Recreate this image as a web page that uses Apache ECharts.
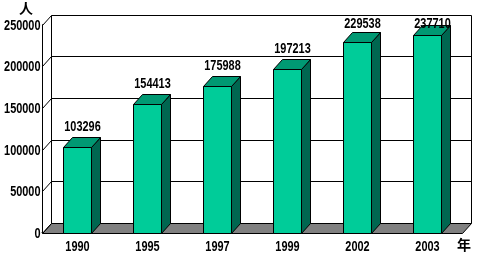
<!DOCTYPE html>
<html><head><meta charset="utf-8">
<script src="https://cdn.jsdelivr.net/npm/echarts@6/dist/echarts.min.js"></script>
<style>html,body{margin:0;padding:0;background:#fff}#c{width:477px;height:258px}</style>
</head><body><div id="c"></div>
<script>
const categories = ['1990','1995','1997','1999','2002','2003'];
const values = [103296,154413,175988,197213,229538,237710];
const yTicks = [0,50000,100000,150000,200000,250000];
const yMax = 250000, yStep = 50000;
const DX = 9, DY = -10;
const FONT = 'bold 14px "Liberation Sans",Arial,sans-serif';
const SX = 0.78;

const chart = echarts.init(document.getElementById('c'), null, {renderer:'canvas'});

function wallItem(params, api){
  const v = api.value(0);
  const n = categories.length;
  const band = api.size([1,0])[0];
  const f = api.coord([0, v]);
  const fr = api.coord([n-1, v]);
  const x0 = Math.round(f[0]-band/2)+0.5, x1 = Math.round(fr[0]+band/2)+0.5;
  const y0 = Math.round(f[1])+0.5;
  const children = [];
  const ls = {stroke:'#000', lineWidth:1};
  if (v === 0){
    children.push({type:'polygon', shape:{points:[[x0,y0],[x1,y0],[x1+DX,y0+DY],[x0+DX,y0+DY]]}, style:{fill:'#808080', stroke:'#000', lineWidth:1}});
    const top = Math.round(api.coord([0, yMax])[1])+0.5;
    children.push({type:'line', shape:{x1:x0+DX,y1:y0+DY,x2:x0+DX,y2:top+DY}, style:ls});
    children.push({type:'line', shape:{x1:x1+DX,y1:y0+DY,x2:x1+DX,y2:top+DY}, style:ls});
  } else {
    children.push({type:'line', shape:{x1:x0+DX,y1:y0+DY,x2:x1+DX,y2:y0+DY}, style:ls});
  }
  children.push({type:'line', shape:{x1:x0,y1:y0,x2:x0+DX,y2:y0+DY}, style:ls});
  children.push({type:'text', x:x0-2, y:y0+1, scaleX:SX, style:{text:String(v), x:0, y:0, textAlign:'right', textVerticalAlign:'middle', font:FONT, fill:'#000'}});
  return {type:'group', children};
}

function barItem(params, api){
  const idx = api.value(0), v = api.value(1);
  const top = api.coord([idx, v]);
  const base = api.coord([idx, 0]);
  const w = api.size([1,0])[0]*0.4;
  const l = Math.round(top[0]-w/2)+0.5, r = l + Math.round(w);
  const t = Math.round(top[1])+0.5, b = Math.round(base[1])+0.5;
  const ls = {stroke:'#000', lineWidth:1};
  const labBottom = Math.max(t+DY-3, 31);
  return {type:'group', children:[
    {type:'polygon', shape:{points:[[r,t],[r+DX,t+DY],[r+DX,b+DY],[r,b]]}, style:Object.assign({fill:'#006650'},ls)},
    {type:'polygon', shape:{points:[[l,t],[r,t],[r+DX,t+DY],[l+DX,t+DY]]}, style:Object.assign({fill:'#009973'},ls)},
    {type:'rect', shape:{x:l,y:t,width:r-l,height:b-t}, style:Object.assign({fill:'#00CC99'},ls)},
    {type:'text', x:(l+r)/2+5, y:labBottom, scaleX:SX, style:{text:String(values[idx]), x:0, y:0, textAlign:'center', textVerticalAlign:'bottom', font:FONT, fill:'#000'}},
    {type:'text', x:(l+r)/2, y:b+14, scaleX:SX, style:{text:categories[idx], x:0, y:0, textAlign:'center', textVerticalAlign:'middle', font:FONT, fill:'#000'}}
  ]};
}

chart.setOption({
  animation:false,
  grid:{left:42, right:15, top:24.7, bottom:25.3, containLabel:false, outerBoundsMode:'none'},
  xAxis:{type:'category', data:categories, boundaryGap:true,
    axisLine:{show:true, lineStyle:{color:'#000', width:1}},
    axisTick:{show:true, inside:true, length:3, lineStyle:{color:'#000'}},
    axisLabel:{show:false},
    splitLine:{show:false}},
  yAxis:{type:'value', min:0, max:yMax, interval:yStep,
    axisLine:{show:true, lineStyle:{color:'#000', width:1}},
    axisTick:{show:false},
    axisLabel:{show:false},
    splitLine:{show:false}},
  graphic:[
    {type:'text', left:19, top:1, style:{text:'人', font:'bold 14px "Noto Sans CJK SC"', fill:'#000'}},
    {type:'text', left:457, top:238, style:{text:'年', font:'bold 14px "Noto Sans CJK SC"', fill:'#000'}}
  ],
  series:[
    {type:'custom', coordinateSystem:'cartesian2d', renderItem:wallItem, data:yTicks.map(v=>[v]), encode:{y:0}, z:1, silent:true, clip:false},
    {type:'custom', coordinateSystem:'cartesian2d', renderItem:barItem, data:values.map((v,i)=>[i,v]), encode:{x:0,y:1}, z:2, silent:true, clip:false}
  ]
});
</script></body></html>
